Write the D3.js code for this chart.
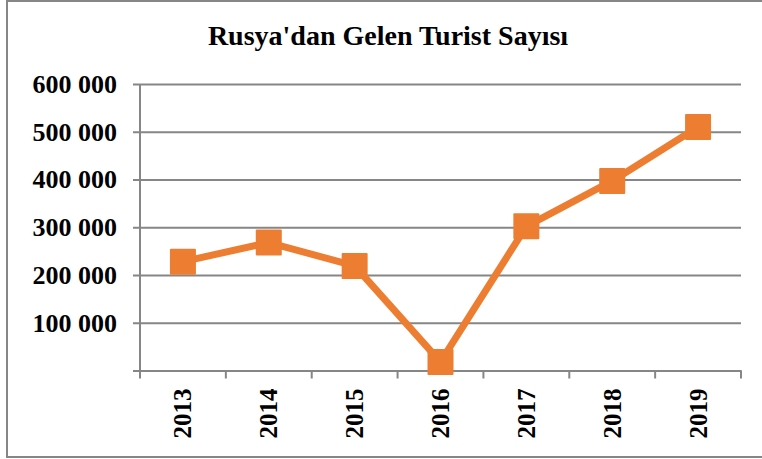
<!DOCTYPE html>
<html>
<head>
<meta charset="utf-8">
<script src="https://cdn.jsdelivr.net/npm/d3@7"></script>
<style>
  body { margin: 0; background: #fff; }
  svg { display: block; }
</style>
</head>
<body>
<div id="chart"></div>
<script>
const years = ["2013", "2014", "2015", "2016", "2017", "2018", "2019"];
const tourists = [228000, 268000, 219000, 18000, 302000, 397000, 510000];
const yTicks = [0, 100000, 200000, 300000, 400000, 500000, 600000];
const title = "Rusya'dan Gelen Turist Sayısı";

const W = 762, H = 459;
const margin = { top: 84, right: 21, bottom: 88.5, left: 140 };
const orange = "#ED7D31";
const grey = "#868686";
const serif = "'Liberation Serif', 'Times New Roman', serif";

const svg = d3.select("#chart").append("svg")
    .attr("width", W)
    .attr("height", H);

// outer frame
svg.append("rect")
    .attr("x", 7).attr("y", 1)
    .attr("width", W + 10).attr("height", 456)
    .attr("fill", "none")
    .attr("stroke", grey)
    .attr("stroke-width", 2);

svg.append("text")
    .attr("x", 388)
    .attr("y", 45)
    .attr("text-anchor", "middle")
    .style("font", `bold 28px ${serif}`)
    .text(title);

const x = d3.scaleBand()
    .domain(years)
    .range([margin.left, W - margin.right]);

const y = d3.scaleLinear()
    .domain([0, 600000])
    .range([H - margin.bottom, margin.top]);

const fmt = v => v === 0 ? "" : d3.format(",")(v).replace(/,/g, " ");

// y axis with gridlines
const yAxis = svg.append("g")
    .attr("transform", `translate(${margin.left},0)`)
    .call(d3.axisLeft(y).tickValues(yTicks).tickFormat(fmt)
        .tickSize(-(W - margin.right - margin.left)));
yAxis.select(".domain").remove();
yAxis.selectAll(".tick line")
    .attr("stroke", grey).attr("stroke-width", 2)
    .attr("x1", -7);
yAxis.selectAll(".tick text")
    .attr("x", -23)
    .style("font", `bold 26px ${serif}`)
    .attr("fill", "#000");

// y axis line
svg.append("line")
    .attr("x1", margin.left).attr("x2", margin.left)
    .attr("y1", y(600000)).attr("y2", y(0) + 7)
    .attr("stroke", grey).attr("stroke-width", 2);

// x axis
const xAxis = svg.append("g")
    .attr("transform", `translate(0,${y(0)})`)
    .call(d3.axisBottom(x).tickSize(0).tickPadding(0));
xAxis.select(".domain").attr("stroke", grey).attr("stroke-width", 2);
xAxis.selectAll(".tick text")
    .attr("transform", "rotate(-90)")
    .attr("text-anchor", "end")
    .attr("x", -18)
    .attr("y", 0)
    .attr("dy", "0.34em")
    .style("font", `bold 25px ${serif}`)
    .attr("fill", "#000");

// category boundary ticks
const bounds = years.map(d => x(d)).concat([x.range()[1]]);
svg.append("g").selectAll("line")
    .data(bounds)
    .join("line")
    .attr("x1", d => d).attr("x2", d => d)
    .attr("y1", y(0)).attr("y2", y(0) + 8)
    .attr("stroke", grey).attr("stroke-width", 2);

// series line
const cx = d => x(d) + x.bandwidth() / 2;
svg.append("path")
    .datum(years.map((d, i) => [cx(d), y(tourists[i])]))
    .attr("fill", "none")
    .attr("stroke", orange)
    .attr("stroke-width", 7)
    .attr("stroke-linejoin", "round")
    .attr("d", d3.line());

const m = 26;
svg.append("g").selectAll("rect")
    .data(years)
    .join("rect")
    .attr("x", d => cx(d) - m / 2)
    .attr("y", (d, i) => y(tourists[i]) - m / 2)
    .attr("width", m)
    .attr("height", m)
    .attr("rx", 1)
    .attr("fill", orange);
</script>
</body>
</html>
